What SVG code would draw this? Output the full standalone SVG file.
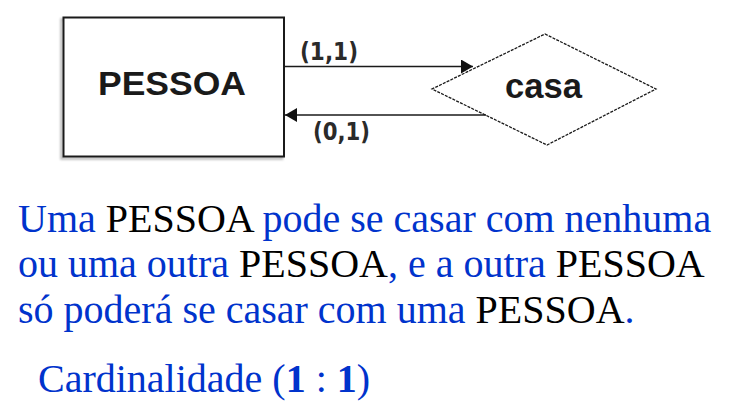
<svg xmlns="http://www.w3.org/2000/svg" width="754" height="407" viewBox="0 0 754 407">
<style>
.ent{fill:#fff;stroke:#1a1a1a;stroke-width:2}
.shadow{fill:none;stroke:#9a9a9a;stroke-width:2.5;opacity:.7}
.rel{fill:#fff;stroke:#1a1a1a;stroke-width:1.3;stroke-dasharray:3 1.2}
.lbl{font-family:"Liberation Sans",Arial,sans-serif;font-weight:bold;fill:#1a1a1a}
.card{font-family:"DejaVu Sans",Verdana,sans-serif;font-weight:bold;font-size:24px;fill:#2a2a2a}
.conn{stroke:#1a1a1a;stroke-width:1.6;fill:none}
.txt{font-family:"Liberation Serif","Times New Roman",serif;font-size:40px;fill:#0033cc}
.blk{fill:#000}
</style>
<defs>
<marker id="ah" markerUnits="userSpaceOnUse" markerWidth="13" markerHeight="15" refX="12" refY="7" orient="auto" viewBox="0 0 13 15">
<path d="M0,0 L12,7 L0,14 z" fill="#111"/>
</marker>
<filter id="blur" x="-10%" y="-10%" width="120%" height="120%"><feGaussianBlur stdDeviation="1"/></filter>
</defs>
<g id="pessoa">
<rect class="shadow" x="61.5" y="19.5" width="220.5" height="139" filter="url(#blur)"/>
<rect class="ent" x="63.5" y="17.5" width="220.5" height="139"/>
<text class="lbl" x="98" y="95" font-size="33" textLength="148" lengthAdjust="spacingAndGlyphs">PESSOA</text>
</g>
<g id="casa">
<polygon class="rel" points="545,34 656,89 547,145 432,89"/>
<text class="lbl" x="505" y="97.5" font-size="35" textLength="77" lengthAdjust="spacingAndGlyphs">casa</text>
</g>
<g id="connectors">
<line class="conn" x1="284" y1="66.5" x2="473" y2="66.5" marker-end="url(#ah)"/>
<line class="conn" x1="486" y1="115" x2="285" y2="115" marker-end="url(#ah)"/>
<text class="card" x="300" y="60" textLength="58" lengthAdjust="spacingAndGlyphs">(1,1)</text>
<text class="card" x="313" y="140" textLength="57" lengthAdjust="spacingAndGlyphs">(0,1)</text>
</g>
<g id="description">
<text class="txt" x="18" y="232">Uma <tspan class="blk">PESSOA</tspan> pode se casar com nenhuma</text>
<text class="txt" x="18" y="277">ou uma outra <tspan class="blk">PESSOA</tspan>, e a outra <tspan class="blk">PESSOA</tspan></text>
<text class="txt" x="18" y="323">só poderá se casar com uma <tspan class="blk">PESSOA</tspan>.</text>
<text class="txt" x="38" y="392">Cardinalidade (<tspan font-weight="bold">1</tspan> : <tspan font-weight="bold">1</tspan>)</text>
</g>
</svg>
